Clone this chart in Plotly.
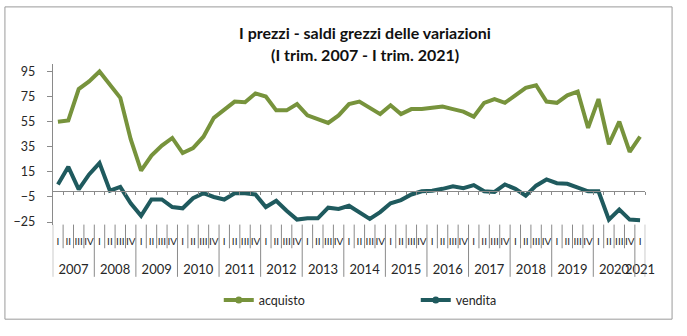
import plotly.graph_objects as go

# ---------------- data ----------------
years = [str(y) for y in range(2007, 2022)]
quarter_names = ["I", "II", "III", "IV"]
quarters_per_year = [4] * 14 + [1]

acquisto = [55, 56, 81, 87, 95, 85, 74, 41, 16, 28, 36, 42, 30, 34, 43,
            58, 65, 71, 70.5, 77.5, 75, 64, 64, 69, 60, 57, 54, 60, 69,
            71, 66, 61, 68, 61, 65, 65, 66, 67, 65, 63, 59, 70, 73, 70,
            76, 82, 84, 71, 70, 76, 79, 50, 73, 37, 55, 31, 43]
vendita = [5, 19, 1, 13, 22, 0, 3, -10, -20, -7, -7, -13, -14, -6, -2,
           -5, -7, -2, -2, -3, -13, -8, -16, -23, -22, -22, -13.5, -14.5, -12,
           -17.5, -22.5, -17, -10, -7.5, -3, -0.5, 0, 1.5, 3.5, 2, 4.5, -0.5, -1, 5,
           1.5, -4, 4, 9, 6, 5.5, 2.5, -0.5, -0.5, -23, -15, -23, -23.5]
y_ticks = [-25, -5, 15, 35, 55, 75, 95]

series_names = ["acquisto", "vendita"]
title_line1 = "I prezzi - saldi grezzi delle variazioni"
title_line2 = "(I trim. 2007 - I trim. 2021)"

# ---------------- derived categories ----------------
quarter_labels = []
for yr, nq in zip(years, quarters_per_year):
    for q in range(nq):
        quarter_labels.append(quarter_names[q])
n = len(acquisto)
idx = list(range(n))

year_centers = []
year_bounds = [-0.5]
start = 0
for nq in quarters_per_year:
    year_centers.append(start + (nq - 1) / 2)
    start += nq
    year_bounds.append(start - 0.5)
quarter_bounds = [k - 0.5 for k in range(1, n) if (k - 0.5) not in year_bounds]

# ---------------- layout helpers ----------------
W, H = 687, 336
def fx(px):
    return px / W
def fy(py):
    return 1 - py / H

PLOT_L, PLOT_R, PLOT_T, PLOT_B = 53.5, 654.8, 65, 228
Y_RANGE = [-27, 100.9]
X_RANGE = [-0.5, n - 0.5]
zero_frac = fy(PLOT_B) + (0 - Y_RANGE[0]) / (Y_RANGE[1] - Y_RANGE[0]) * (fy(PLOT_T) - fy(PLOT_B))

GREEN = "#77933c"
TEAL = "#1f5a5e"
GRAY = "#8a8a8a"
FONT = "Lato"
TXT = "#262626"

fig = go.Figure()
fig.add_trace(go.Scatter(x=idx, y=acquisto, mode="lines", name=series_names[0],
                         line=dict(color=GREEN, width=4), showlegend=False))
fig.add_trace(go.Scatter(x=idx, y=vendita, mode="lines", name=series_names[1],
                         line=dict(color=TEAL, width=4), showlegend=False))
# legend entries (Excel style line with marker)
fig.add_trace(go.Scatter(x=[None], y=[None], mode="lines+markers", name=series_names[0],
                         line=dict(color=GREEN, width=4), marker=dict(color=GREEN, size=7),
                         xaxis="x2", hoverinfo="skip"))
fig.add_trace(go.Scatter(x=[None], y=[None], mode="lines+markers", name=series_names[1],
                         line=dict(color=TEAL, width=4), marker=dict(color=TEAL, size=7),
                         xaxis="x3", hoverinfo="skip"))

dom = [fx(PLOT_L), fx(PLOT_R)]
shapes = [dict(type="rect", xref="paper", yref="paper", x0=fx(5), x1=fx(682),
               y0=fy(324), y1=fy(7), line=dict(color="#9a9a9a", width=1), layer="below")]
for b in year_bounds:
    shapes.append(dict(type="line", xref="x", yref="paper", x0=b, x1=b,
                       y0=fy(PLOT_B), y1=fy(281), line=dict(color=GRAY, width=1)))
for b in quarter_bounds:
    shapes.append(dict(type="line", xref="x", yref="paper", x0=b, x1=b,
                       y0=fy(PLOT_B), y1=fy(252), line=dict(color=GRAY, width=1)))

fig.update_layout(
    width=W, height=H, margin=dict(l=0, r=0, t=0, b=0),
    paper_bgcolor="white", plot_bgcolor="white",
    font=dict(family=FONT, color=TXT),
    xaxis=dict(domain=dom, range=X_RANGE, anchor="free", position=zero_frac,
               showline=True, linecolor=GRAY, linewidth=1,
               ticks="outside", ticklen=3, tickcolor=GRAY, tickmode="array",
               tickvals=[k - 0.5 for k in range(n + 1)], showticklabels=False,
               showgrid=False, zeroline=False, fixedrange=True),
    xaxis2=dict(domain=dom, range=X_RANGE, overlaying="x", anchor="free",
                position=fy(PLOT_B), showline=False, ticks="", tickmode="array",
                tickvals=idx, ticktext=quarter_labels, tickangle=0,
                tickfont=dict(size=10, color=TXT, family=FONT), ticklabelstandoff=9,
                showgrid=False, zeroline=False, fixedrange=True),
    xaxis3=dict(domain=dom, range=X_RANGE, overlaying="x", anchor="free",
                position=fy(264), showline=False, ticks="", tickmode="array",
                tickvals=year_centers, ticktext=years, tickangle=0,
                tickfont=dict(size=13, color=TXT, family=FONT),
                showgrid=False, zeroline=False, fixedrange=True),
    yaxis=dict(domain=[fy(PLOT_B), fy(PLOT_T)], range=Y_RANGE, showline=True,
               linecolor=GRAY, linewidth=1, ticks="outside", ticklen=5, tickcolor=GRAY,
               tickmode="array", tickvals=y_ticks, tickfont=dict(size=12.5, color=TXT, family=FONT),
               ticklabelstandoff=9,
               showgrid=False, zeroline=False, fixedrange=True),
    showlegend=True,
    legend=dict(orientation="h", x=fx(222), xanchor="left", y=fy(305), yanchor="middle",
                entrywidth=152, entrywidthmode="pixels", font=dict(size=12.5, color=TXT, family=FONT),
                bgcolor="rgba(0,0,0,0)", tracegroupgap=0),
    shapes=shapes,
    annotations=[
        dict(text="<b>" + title_line1 + "</b>", xref="paper", yref="paper", x=fx(370), y=fy(33),
             xanchor="center", yanchor="middle", showarrow=False,
             font=dict(size=16, color="#111111", family=FONT)),
        dict(text="<b>" + title_line2 + "</b>", xref="paper", yref="paper", x=fx(370), y=fy(55),
             xanchor="center", yanchor="middle", showarrow=False,
             font=dict(size=16, color="#111111", family=FONT)),
    ],
)

fig.write_html("out.html")
